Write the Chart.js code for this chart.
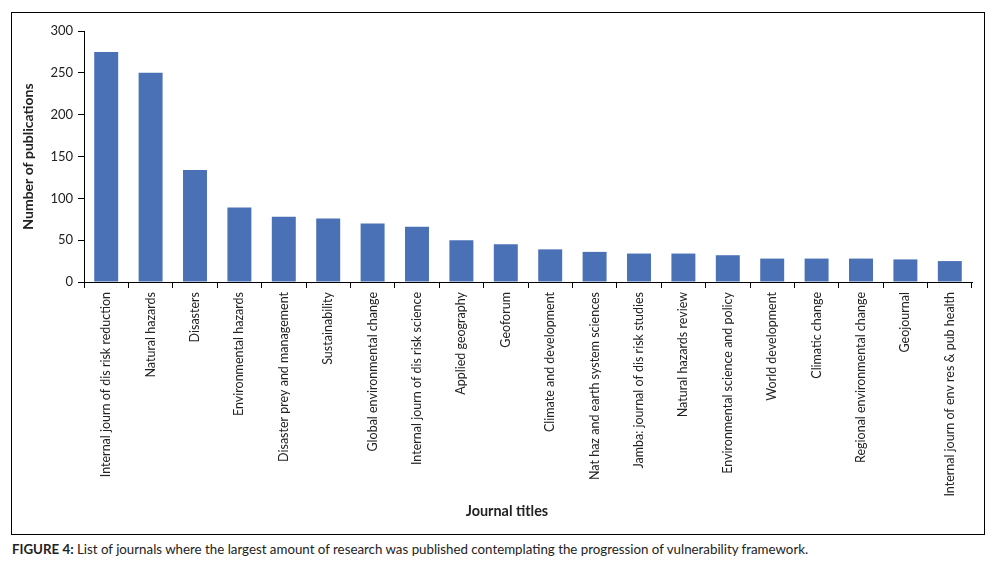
<!DOCTYPE html>
<html>
<head>
<meta charset="utf-8">
<script src="https://cdn.jsdelivr.net/npm/chart.js@4.4.1/dist/chart.umd.min.js"></script>
<style>
  body { margin: 0; background: #fff; font-family: Lato, sans-serif; }
  #frame { position: absolute; left: 11px; top: 12px; width: 972px; height: 521px; border: 1px solid #000; }
  #wrap { position: absolute; left: 0; top: 0; width: 972px; height: 521px; }
  #xtitle { position: absolute; left: 0; width: 1014px; top: 502px; text-align: center; font: bold 14.4px Lato, sans-serif; color: #222; }
  #caption { position: absolute; left: 12px; top: 541px; font: 13.3px Lato, sans-serif; color: #222; white-space: nowrap; }
</style>
</head>
<body>
<div id="frame"><div id="wrap"><canvas id="chart"></canvas></div></div>
<div id="xtitle">Journal titles</div>
<div id="caption"><b>FIGURE 4:</b> List of journals where the largest amount of research was published contemplating the progression of vulnerability framework.</div>
<script>
// journals and their publication counts
const journals = [
    'Internal journ of dis risk reduction',
    'Natural hazards',
    'Disasters',
    'Environmental hazards',
    'Disaster prey and management',
    'Sustainability',
    'Global environmental change',
    'Internal journ of dis risk science',
    'Applied geography',
    'Geoforum',
    'Climate and development',
    'Nat haz and earth system sciences',
    'Jamba: journal of dis risk studies',
    'Natural hazards review',
    'Environmental science and policy',
    'World development',
    'Climatic change',
    'Regional environmental change',
    'Geojournal',
    'Internal journ of env res & pub health'
];
const publications = [275, 250, 134, 89, 78, 76, 70, 66, 50, 45, 39, 36, 34, 34, 32, 28, 28, 28, 27, 25];
const yTicks = [0, 50, 100, 150, 200, 250, 300];

const ctx = document.getElementById('chart').getContext('2d');
new Chart(ctx, {
    type: 'bar',
    data: {
        labels: journals,
        datasets: [{
            label: 'Number of publications',
            data: publications,
            backgroundColor: '#4a71b6',
            barPercentage: 0.54,
            categoryPercentage: 1
        }]
    },
    options: {
        responsive: true,
        maintainAspectRatio: false,
        animation: false,
        layout: { padding: { top: 18, right: 12, left: 0, bottom: 0 } },
        plugins: { legend: { display: false }, tooltip: { enabled: false } },
        scales: {
            x: {
                grid: { display: true, drawOnChartArea: false, offset: true, tickLength: 6, color: '#000' },
                border: { display: true, color: '#000', width: 1 },
                ticks: {
                    minRotation: 90, maxRotation: 90, autoSkip: false, padding: 4,
                    color: '#222', font: { family: 'Lato', size: 12.5 }
                },
                afterFit: scale => { scale.height = 252; }
            },
            y: {
                min: 0,
                max: 300,
                afterBuildTicks: scale => { scale.ticks = yTicks.map(v => ({ value: v })); },
                grid: { display: true, drawOnChartArea: false, tickLength: 6, color: '#000' },
                border: { display: true, color: '#000', width: 1 },
                ticks: { padding: 5, color: '#222', font: { family: 'Lato', size: 13 } },
                title: {
                    display: true,
                    text: 'Number of publications',
                    color: '#222',
                    font: { family: 'Lato', size: 14, weight: 'bold' },
                    padding: { top: 8, bottom: 0 }
                },
                afterFit: scale => { scale.width = 72; }
            }
        }
    }
});
</script>
</body>
</html>
